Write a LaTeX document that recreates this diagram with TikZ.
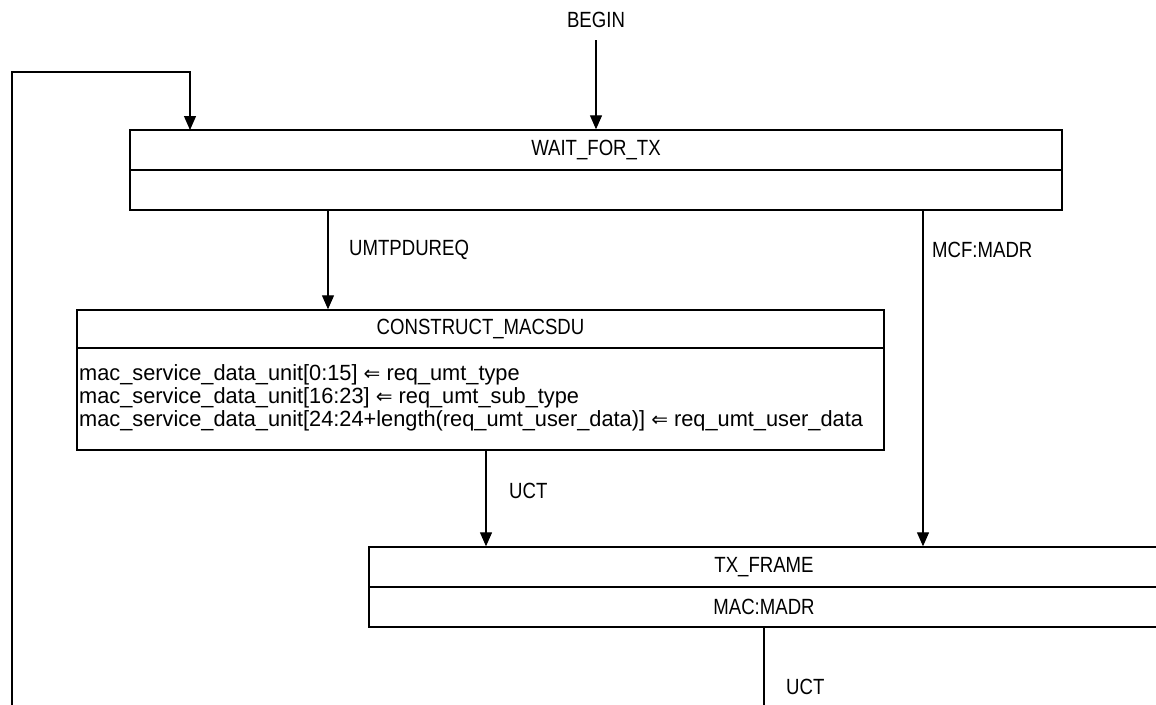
\documentclass[tikz,border=0pt]{standalone}
\usepackage{fontspec}
\setmainfont{Liberation Sans}
\newfontfamily\capfont[FakeStretch=0.845]{Liberation Sans}
\newfontfamily\codefont[FakeStretch=0.99]{Liberation Sans}
\newfontfamily\symfont{DejaVu Sans}
\usetikzlibrary{arrows.meta}
\tikzset{
  box/.style={draw, line width=1.4pt, rectangle, inner sep=0pt},
  divider/.style={line width=1.4pt},
  arr/.style={line width=1.2pt, -{Triangle[width=12pt,length=14pt]}},
  plain/.style={line width=1.2pt},
  txt/.style={inner sep=0pt, font=\fontsize{22}{26}\selectfont\capfont},
  lbl/.style={txt, anchor=west},
  code/.style={inner sep=0pt, anchor=base west, font=\fontsize{22}{26}\selectfont\codefont},
}
\newcommand{\lar}{{\symfont\fontsize{20}{24}\selectfont ⇐}}
\begin{document}
\begin{tikzpicture}[x=1pt,y=-1pt]
\clip (0,0) rectangle (1156,704);
\fill[white] (0,0) rectangle (1156,704);

% WAIT_FOR_TX
\node[box, minimum width=932pt, minimum height=80pt] (wait) at (596,170) {};
\node[txt] (waitT) at (596,150) {WAIT\_FOR\_TX};
\draw[divider] (wait.west) -- (wait.east);

% CONSTRUCT_MACSDU
\node[box, minimum width=807pt, minimum height=140pt] (cons) at (480.5,380) {};
\node[txt] (consT) at (480.5,329) {CONSTRUCT\_MACSDU};
\coordinate (consdivL) at (77,348);
\coordinate (consdivR) at (884,348);
\draw[divider] (consdivL) -- (consdivR);
\node[code] (c1) at (79,380) {mac\_service\_data\_unit[0:15] \lar{} req\_umt\_type};
\node[code] (c2) at (79,403) {mac\_service\_data\_unit[16:23] \lar{} req\_umt\_sub\_type};
\node[code] (c3) at (79,426) {mac\_service\_data\_unit[24:24+length(req\_umt\_user\_data)] \lar{} req\_umt\_user\_data};

% TX_FRAME
\node[box, minimum width=790pt, minimum height=80pt] (tx) at (764,587) {};
\node[txt] (txT) at (764,567) {TX\_FRAME};
\node[txt] (txB) at (764,607) {MAC:MADR};
\draw[divider] (tx.west) -- (tx.east);

% BEGIN
\node[txt] (begin) at (596,20) {BEGIN};
\coordinate (beginout) at (596,40);
\draw[arr] (beginout) -- (beginout |- wait.north);

% loop back
\coordinate (loopbot) at (12,710);
\coordinate (loopin) at (190,130);
\draw[arr] (loopbot) -- ++(0,-638) -| (loopin);

% UMTPDUREQ
\coordinate (u1) at (328,210);
\draw[arr] (u1) -- (u1 |- cons.north);
\node[lbl] (umtl) at (349,250) {UMTPDUREQ};

% MCF:MADR
\coordinate (m1) at (923,210);
\draw[arr] (m1) -- (m1 |- tx.north);
\node[lbl] (mcfl) at (932,250) {MCF:MADR};

% UCT
\coordinate (t1) at (486,450);
\draw[arr] (t1) -- (t1 |- tx.north);
\node[lbl] (uct1) at (509,491) {UCT};

% UCT bottom
\coordinate (bot) at (764,710);
\draw[plain] (tx.south) -- (bot);
\node[lbl] (uct2) at (786,687) {UCT};
\end{tikzpicture}
\end{document}
